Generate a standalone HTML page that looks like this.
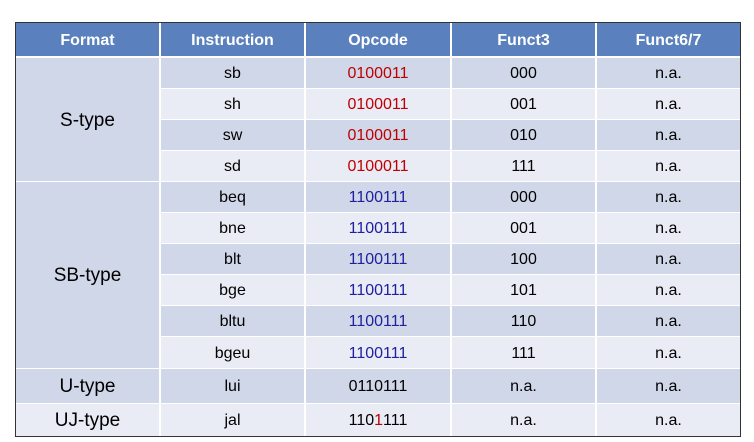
<!DOCTYPE html>
<html><head><style>
body{margin:0;background:#fff;width:754px;height:442px;position:relative;overflow:hidden;font-family:"Liberation Sans",Arial,sans-serif;}
.c{position:absolute;display:flex;align-items:center;justify-content:center;font-size:16px;color:#000;box-sizing:border-box;padding-top:2px;}
.h{background:#5A80BD;color:#fff;font-weight:bold;}
.d{background:#D0D7E8;}
.l{background:#E9EBF5;}
.f{font-size:19px;}
.r{color:#C00000}.b{color:#2020A0}
#t{position:absolute;left:15px;top:22px;width:726px;height:415px;border:1px solid #333;box-sizing:border-box;}
</style></head><body>
<div id="t"></div>
<div id="cells"></div>
<script>
var cols=[16,161,306,452,597,740];
var hdr=["Format","Instruction","Opcode","Funct3","Funct6/7"];
var out="";
function cell(x0,x1,y0,y1,cls,txt){out+='<div class="c '+cls+'" style="left:'+x0+'px;top:'+y0+'px;width:'+(x1-x0)+'px;height:'+(y1-y0)+'px">'+txt+'</div>';}
for(var i=0;i<5;i++)cell(cols[i],cols[i+1]-(i<4?2:0),23,56,"h",hdr[i]);
var rows=[["sb","r0100011","000"],["sh","r0100011","001"],["sw","r0100011","010"],["sd","r0100011","111"],
["beq","b1100111","000"],["bne","b1100111","001"],["blt","b1100111","100"],["bge","b1100111","101"],["bltu","b1100111","110"],["bgeu","b1100111","111"],
["lui","n0110111","n.a."],["jal","x","n.a."]];
var ys=[58,89,120,151,182,213,244,275,306,337,369,404,436];
for(var r=0;r<12;r++){
 var cls=r%2==0?"d":"l";var y0=ys[r],y1=ys[r+1]-(r<11?1:0);
 var op=rows[r][1];var opt,oc="";
 if(op=="x")opt='110<span class="r">1</span>111';else{opt=op.slice(1);oc=op[0]=="r"?"r":op[0]=="b"?"b":"";}
 cell(cols[1],cols[2]-2,y0,y1,cls,rows[r][0]);
 cell(cols[2],cols[3]-2,y0,y1,cls+" "+oc,opt);
 cell(cols[3],cols[4]-2,y0,y1,cls,rows[r][2]);
 cell(cols[4],cols[5],y0,y1,cls,"n.a.");
}
cell(cols[0],cols[1]-2,58,181,"d f","S-type");
cell(cols[0],cols[1]-2,182,368,"d f","SB-type");
cell(cols[0],cols[1]-2,369,403,"d f","U-type");
cell(cols[0],cols[1]-2,404,436,"l f","UJ-type");
document.getElementById("cells").innerHTML=out;
</script>
</body></html>
